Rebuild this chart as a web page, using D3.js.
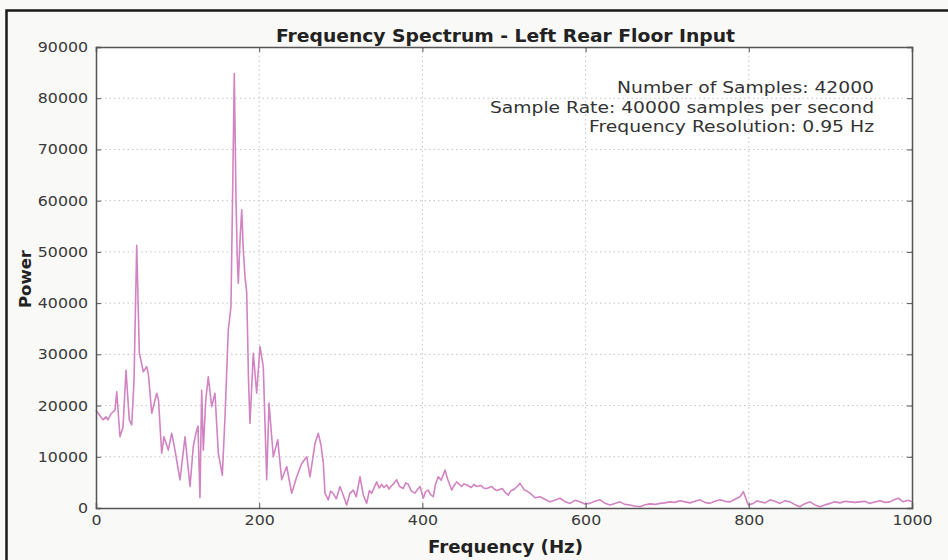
<!DOCTYPE html>
<html>
<head>
<meta charset="utf-8">
<script src="https://cdn.jsdelivr.net/npm/d3@7/dist/d3.min.js"></script>
<style>
  html, body { margin: 0; padding: 0; background: #f9f9f7; }
  svg { display: block; }
  text { font-family: "DejaVu Sans", sans-serif; }
</style>
</head>
<body>
<svg id="chart" width="948" height="560"></svg>
<script>
// ---- data ----
const title = "Frequency Spectrum - Left Rear Floor Input";
const xLabel = "Frequency (Hz)";
const yLabel = "Power";
const notes = ["Number of Samples: 42000", "Sample Rate: 40000 samples per second", "Frequency Resolution: 0.95 Hz"];
const xTicks = [0, 200, 400, 600, 800, 1000];
const yTicks = [0, 10000, 20000, 30000, 40000, 50000, 60000, 70000, 80000, 90000];

const freq = [0, 4.9, 8.6, 12.3, 14.7, 18.4, 23.3, 25.4, 29.4, 33.1, 36.8, 40.8, 43.8, 46.6, 49.9, 53.1, 58, 62.1, 64.3, 68.3,
  74.4, 76.6, 80.5, 83.3, 88.6, 92.8, 96.8, 102.9, 109.1, 115.2, 119.2, 122.5, 125, 127.4, 129.5, 131.5, 134.5, 137.6, 141.8, 145.8,
  149.9, 154.8, 158.1, 162.1, 165.4, 167.3, 169.5, 171.6, 173.2, 174.4, 176.5, 178.6, 180.5, 182.6, 184.7, 186.9, 188.7, 192.8, 196.9, 201,
  205, 209.2, 212, 217.3, 222.7, 227.6, 233.7, 239.8, 246, 252.1, 258.2, 262.3, 268.4, 272.4, 275.7, 278.6, 280.6, 284.7, 287.5, 290.4, 294.5,
  299, 303, 307.2, 311, 315.3, 319, 323.5, 327.5, 331.7, 335, 337.9, 344, 347, 350, 353, 356.3, 359, 362, 365, 368.5, 372, 376.6, 379.5, 382.4, 386.5, 390.9, 394, 397.1, 401.1,
  404, 407.2, 410, 413.4, 416, 419.5, 423, 427.7, 431, 435.9, 438.5, 442, 448, 451, 454.3, 460, 463, 466.5, 472, 475, 478.8, 485, 488, 491, 498, 501, 505.3, 508, 512, 516, 519.6, 525, 528, 531.9,
  538, 544.1, 550, 556.4, 562, 568.6, 575, 580.9, 587, 593.1, 599, 605.4, 611, 617.6, 623, 629.9, 636, 642.2, 648, 654.4, 660, 666.7, 672, 678.9, 685, 691.2, 697, 703.4, 709, 715.7, 722, 727.9, 734, 740.2, 746, 752.5,
  758, 764.7, 771, 777, 783, 789.2, 793.3, 799.4, 805.5, 810, 813.7, 820, 826, 832, 838.2, 844, 850.5, 856, 862.7, 868, 875, 881, 887.3, 893, 899.5, 905, 911.8, 918, 924, 930, 936.3, 942, 948.5, 955, 960.8, 967, 973,
  978, 983.2, 989.3, 995, 1000];
const power = [19100, 18000, 17200, 17800, 17200, 18400, 19100, 22700, 13900, 15800, 26900, 17200, 16200, 25000, 51300, 30300, 26600, 27600, 26000, 18500,
  22400, 21100, 10700, 13900, 11300, 14600, 11300, 5500, 13900, 4200, 12000, 14600, 16000, 2000, 23000, 11300, 21000, 25600, 19800, 22400,
  10700, 6400, 17800, 34700, 39300, 60100, 84800, 60100, 48400, 43900, 52300, 58200, 50400, 45200, 42000, 25000, 16500, 30200, 22400, 31500,
  27600, 5500, 20500, 10000, 13300, 5500, 8100, 2900, 6100, 8700, 10000, 6100, 12600, 14600, 12300, 8800, 2900, 1600, 3300, 2900, 1800,
  4200, 2500, 600, 2800, 3500, 2200, 6100, 2600, 900, 3400, 2900, 5100, 3900, 4600, 4000, 4500, 3700, 4300, 4800, 5500, 4200, 3800, 4900, 4700, 3300, 2900, 3600, 4200, 1900,
  3200, 3500, 2600, 2200, 4600, 6100, 5400, 7400, 5600, 3500, 4300, 5100, 4200, 4700, 4500, 4000, 4600, 4200, 4400, 3900, 3800, 4200, 3700, 3400, 3800, 3100, 2500, 3300, 3600, 4200, 4800, 3500, 3300, 2900,
  2000, 2200, 1700, 1200, 1500, 1900, 1200, 900, 1500, 1200, 800, 900, 1300, 1600, 1000, 600, 900, 1200, 700, 600, 400, 250, 600, 800, 700, 900, 1000, 1200, 1100, 1400, 1200, 1000, 1300, 1600, 1100, 900,
  1300, 1600, 1300, 1200, 1700, 2200, 3200, 600, 900, 1400, 1200, 1000, 1600, 1300, 900, 1400, 1200, 700, 250, 800, 1200, 600, 250, 600, 900, 1200, 1000, 1300, 1200, 1100, 1200, 1300, 900, 1200, 1400, 1100, 1200,
  1600, 1900, 1200, 1500, 1200];

// ---- layout ----
const svg = d3.select("#chart");

svg.append("rect").attr("x", 6.5).attr("y", 10.5).attr("width", 960).attr("height", 600)
  .attr("fill", "#f9f9f7").attr("stroke", "#1a1a1a").attr("stroke-width", 2.5);

const x = d3.scaleLinear().domain([0, 1000]).range([96, 912]);
const y = d3.scaleLinear().domain([0, 90000]).range([508, 47]);

const g = svg.append("g");
g.append("rect").attr("x", x(0)).attr("y", y(90000)).attr("width", x(1000) - x(0)).attr("height", y(0) - y(90000)).attr("fill", "#ffffff");

// grid
g.selectAll("line.gx").data(xTicks.slice(1, -1)).join("line").attr("class", "gx")
  .attr("x1", d => x(d)).attr("x2", d => x(d)).attr("y1", y(90000)).attr("y2", y(0))
  .attr("stroke", "#c4c4c4").attr("stroke-width", 1).attr("stroke-dasharray", "1.5,3");
g.selectAll("line.gy").data(yTicks.slice(1, -1)).join("line").attr("class", "gy")
  .attr("y1", d => y(d)).attr("y2", d => y(d)).attr("x1", x(0)).attr("x2", x(1000))
  .attr("stroke", "#c4c4c4").attr("stroke-width", 1).attr("stroke-dasharray", "1.5,3");

// line
const line = d3.line().x((d, i) => x(freq[i])).y(d => y(d));
g.append("path").datum(power).attr("d", line).attr("fill", "none")
  .attr("stroke", "#d283c2").attr("stroke-width", 1.6).attr("stroke-linejoin", "round");

// axes (matplotlib style: inward ticks)
const axB = d3.axisBottom(x).tickValues(xTicks).tickSize(-5).tickPadding(7).tickFormat(d3.format("d"));
const axT = d3.axisTop(x).tickValues(xTicks).tickSize(-5).tickFormat("");
const axL = d3.axisLeft(y).tickValues(yTicks).tickSize(-5).tickPadding(7).tickFormat(d3.format("d"));
const axR = d3.axisRight(y).tickValues(yTicks).tickSize(-5).tickFormat("");

function style(sel) {
  sel.selectAll("path.domain").attr("stroke", "#555").attr("stroke-width", 1.5);
  sel.selectAll(".tick line").attr("stroke", "#555");
  sel.selectAll(".tick text").attr("fill", "#3a3a3a").style("font-size", "14px")
    .style("font-family", "DejaVu Sans, sans-serif").attr("transform", "scale(1.13,1)");
}
svg.append("g").attr("transform", `translate(0,${y(0)})`).call(axB).call(style);
svg.append("g").attr("transform", `translate(0,${y(90000)})`).call(axT).call(style);
svg.append("g").attr("transform", `translate(${x(0)},0)`).call(axL).call(style);
svg.append("g").attr("transform", `translate(${x(1000)},0)`).call(axR).call(style);

// title and labels
svg.append("text").attr("x", 505.5).attr("y", 42).attr("text-anchor", "middle")
  .attr("textLength", 459).attr("lengthAdjust", "spacingAndGlyphs")
  .style("font-size", "17px").style("font-weight", "bold").attr("fill", "#222").text(title);
svg.append("text").attr("x", 505.5).attr("y", 553).attr("text-anchor", "middle")
  .attr("textLength", 155).attr("lengthAdjust", "spacingAndGlyphs")
  .style("font-size", "17px").style("font-weight", "bold").attr("fill", "#222").text(xLabel);
svg.append("text").attr("transform", "translate(31,279) rotate(-90)").attr("text-anchor", "middle")
  .attr("textLength", 58).attr("lengthAdjust", "spacingAndGlyphs")
  .style("font-size", "16px").style("font-weight", "bold").attr("fill", "#222").text(yLabel);

const noteWidths = [257, 384, 285];
svg.append("g").selectAll("text").data(notes).join("text")
  .attr("x", 874).attr("y", (d, i) => 93 + i * 19.5).attr("text-anchor", "end")
  .attr("textLength", (d, i) => noteWidths[i]).attr("lengthAdjust", "spacingAndGlyphs")
  .style("font-size", "15px").attr("fill", "#333").text(d => d);
</script>
</body>
</html>
